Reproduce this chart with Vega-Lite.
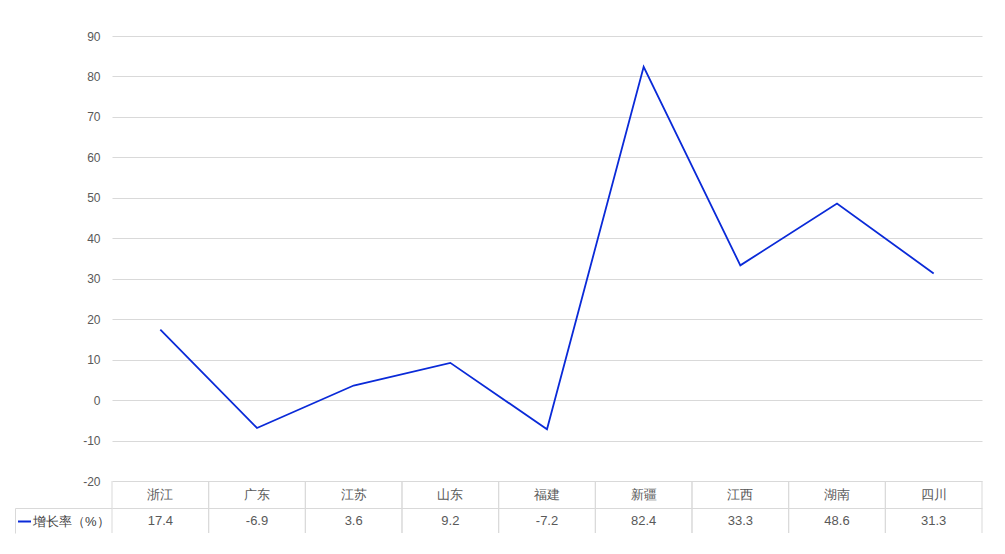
{
  "$schema": "https://vega.github.io/schema/vega-lite/v6.json",
  "background": "white",
  "padding": {"left": 14, "top": 30, "right": 5, "bottom": 5},
  "bounds": "flush",
  "spacing": 0,
  "config": {
    "view": {"stroke": null},
    "font": "Liberation Sans",
    "locale": {"number": {"decimal": ".", "thousands": ",", "grouping": [3], "currency": ["", ""], "minus": "-"}}
  },
  "datasets": {
    "d": [
      {"province": "浙江", "series": "增长率（%）", "value": 17.4},
      {"province": "广东", "series": "增长率（%）", "value": -6.9},
      {"province": "江苏", "series": "增长率（%）", "value": 3.6},
      {"province": "山东", "series": "增长率（%）", "value": 9.2},
      {"province": "福建", "series": "增长率（%）", "value": -7.2},
      {"province": "新疆", "series": "增长率（%）", "value": 82.4},
      {"province": "江西", "series": "增长率（%）", "value": 33.3},
      {"province": "湖南", "series": "增长率（%）", "value": 48.6},
      {"province": "四川", "series": "增长率（%）", "value": 31.3}
    ]
  },
  "vconcat": [
    {
      "width": 870,
      "height": 445,
      "data": {"name": "d"},
      "mark": {"type": "line", "strokeWidth": 1.8},
      "encoding": {
        "x": {"field": "province", "type": "nominal", "sort": null, "scale": {"type": "point", "padding": 0.5}, "axis": null},
        "y": {
          "field": "value", "type": "quantitative",
          "scale": {"domain": [-20, 90], "nice": false, "zero": false},
          "axis": {"values": [-20, -10, 0, 10, 20, 30, 40, 50, 60, 70, 80, 90], "title": null, "domain": false, "ticks": false, "gridColor": "#d9d9d9", "labelColor": "#595959", "labelFontSize": 12, "labelPadding": 12}
        },
        "color": {
          "field": "series", "type": "nominal",
          "scale": {"range": ["#0a2ad8"]},
          "legend": {"orient": "none", "legendX": -95, "legendY": 478, "title": null, "symbolType": "stroke", "symbolSize": 169, "symbolStrokeWidth": 2, "labelFontSize": 13, "labelColor": "#404040", "labelOffset": 1, "padding": 0}
        }
      }
    },
    {
      "width": 870,
      "height": 27,
      "data": {"name": "d"},
      "layer": [
        {
          "mark": {"type": "rule", "color": "#d9d9d9"},
          "encoding": {
            "x": {"field": "province", "type": "nominal", "sort": null, "bandPosition": 0, "scale": {"type": "band", "paddingInner": 0, "paddingOuter": 0}, "axis": {"title": null, "labels": false, "ticks": false, "domain": true, "domainColor": "#d9d9d9", "grid": false}}
          }
        },
        {
          "mark": {"type": "rule", "color": "#d9d9d9"},
          "encoding": {
            "x": {"field": "province", "type": "nominal", "sort": null, "bandPosition": 1, "scale": {"type": "band", "paddingInner": 0, "paddingOuter": 0}, "axis": {"title": null, "labels": false, "ticks": false, "domain": true, "domainColor": "#d9d9d9", "grid": false}}
          }
        },
        {
          "mark": {"type": "text", "fontSize": 13, "color": "#595959"},
          "encoding": {
            "x": {"field": "province", "type": "nominal", "sort": null, "scale": {"type": "band", "paddingInner": 0, "paddingOuter": 0}, "axis": {"title": null, "labels": false, "ticks": false, "domain": true, "domainColor": "#d9d9d9", "grid": false}},
            "y": {"datum": "h", "type": "nominal", "scale": {"type": "band", "paddingInner": 0, "paddingOuter": 0}, "axis": {"title": null, "labels": false, "domain": false, "ticks": true, "tickSize": 97, "tickColor": "#d9d9d9", "bandPosition": 1, "tickExtra": false, "grid": false}},
            "text": {"field": "province"}
          }
        }
      ]
    },
    {
      "width": 870,
      "height": 25,
      "data": {"name": "d"},
      "layer": [
        {
          "mark": {"type": "rule", "color": "#d9d9d9"},
          "encoding": {
            "x": {"field": "province", "type": "nominal", "sort": null, "bandPosition": 0, "scale": {"type": "band", "paddingInner": 0, "paddingOuter": 0}, "axis": null}
          }
        },
        {
          "mark": {"type": "rule", "color": "#d9d9d9"},
          "encoding": {
            "x": {"field": "province", "type": "nominal", "sort": null, "bandPosition": 1, "scale": {"type": "band", "paddingInner": 0, "paddingOuter": 0}, "axis": null}
          }
        },
        {
          "mark": {"type": "text", "fontSize": 13, "color": "#595959"},
          "encoding": {
            "x": {"field": "province", "type": "nominal", "sort": null, "scale": {"type": "band", "paddingInner": 0, "paddingOuter": 0}, "axis": null},
            "y": {"datum": "v", "type": "nominal", "scale": {"type": "band", "paddingInner": 0, "paddingOuter": 0}, "axis": {"title": null, "labels": false, "ticks": false, "domain": true, "domainColor": "#d9d9d9", "offset": 97, "grid": false}},
            "text": {"field": "value", "type": "quantitative", "format": ".1f"}
          }
        }
      ]
    }
  ]
}
